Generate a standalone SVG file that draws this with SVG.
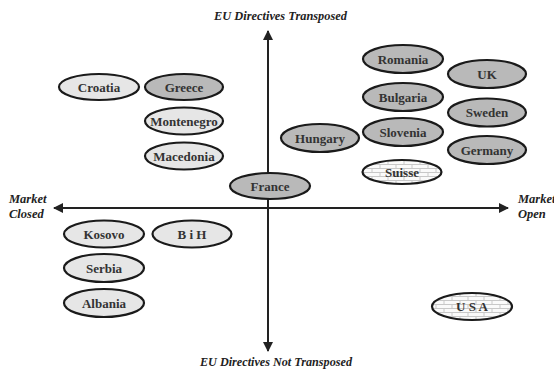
<svg xmlns="http://www.w3.org/2000/svg" width="554" height="371" viewBox="0 0 554 371">
<style>
.n ellipse{stroke:#1a1a1a;stroke-width:2.2}
.lt{fill:#e6e6e6}
.dk{fill:#b9b9b9}
.br{fill:url(#brick)}
.n text{font-family:"Liberation Serif","DejaVu Serif",serif;font-weight:bold;font-size:13px;fill:#333;text-anchor:middle}
.ax{font-family:"Liberation Serif","DejaVu Serif",serif;font-weight:bold;font-style:italic;font-size:12.5px;fill:#222}
.axis{stroke:#222;stroke-width:2;fill:none}
</style>
<defs>
<pattern id="brick" width="16" height="8" patternUnits="userSpaceOnUse">
<rect width="16" height="8" fill="#fafafa"/>
<path d="M0 0.5H16M0 4.5H16M4 0.5V4.5M12 4.5V8" stroke="#c8c8c8" stroke-width="1" fill="none"/>
</pattern>
<marker id="ah" viewBox="0 0 10 10" refX="9" refY="5" markerWidth="5" markerHeight="5" orient="auto" markerUnits="strokeWidth">
<path d="M0 0L10 5L0 10Z" fill="#222"/>
</marker>
</defs>
<rect width="554" height="371" fill="#ffffff"/>
<g id="connectors">
<line class="axis" x1="268" y1="208" x2="268" y2="31" marker-end="url(#ah)"/>
<line class="axis" x1="268" y1="208" x2="268" y2="351" marker-end="url(#ah)"/>
<line class="axis" x1="268" y1="208" x2="54" y2="208" marker-end="url(#ah)"/>
<line class="axis" x1="268" y1="208" x2="508" y2="208" marker-end="url(#ah)"/>
</g>
<g id="labels">
<text class="ax" x="214" y="20" textLength="133" lengthAdjust="spacingAndGlyphs">EU Directives Transposed</text>
<text class="ax" x="200" y="366" textLength="152" lengthAdjust="spacingAndGlyphs">EU Directives Not Transposed</text>
<text class="ax" x="9" y="203">Market</text>
<text class="ax" x="9" y="218">Closed</text>
<text class="ax" x="518" y="203">Market</text>
<text class="ax" x="518" y="218">Open</text>
</g>
<g id="croatia" class="n"><ellipse class="lt" cx="99" cy="87" rx="40" ry="13"/><text x="99" y="91.5">Croatia</text></g>
<g id="greece" class="n"><ellipse class="dk" cx="184" cy="87" rx="39" ry="13"/><text x="184" y="91.5">Greece</text></g>
<g id="montenegro" class="n"><ellipse class="lt" cx="184" cy="121" rx="39" ry="13.5"/><text x="184" y="125.5">Montenegro</text></g>
<g id="macedonia" class="n"><ellipse class="lt" cx="184" cy="156" rx="39" ry="13.5"/><text x="184" y="160.5">Macedonia</text></g>
<g id="france" class="n"><ellipse class="dk" cx="270" cy="186" rx="40" ry="13"/><text x="270" y="190.5">France</text></g>
<g id="romania" class="n"><ellipse class="dk" cx="403" cy="59" rx="40" ry="14"/><text x="403" y="63.5">Romania</text></g>
<g id="uk" class="n"><ellipse class="dk" cx="487" cy="74" rx="39" ry="14"/><text x="487" y="78.5">UK</text></g>
<g id="bulgaria" class="n"><ellipse class="dk" cx="403" cy="97" rx="40" ry="14"/><text x="403" y="101.5">Bulgaria</text></g>
<g id="sweden" class="n"><ellipse class="dk" cx="487" cy="112.5" rx="39" ry="14"/><text x="487" y="117">Sweden</text></g>
<g id="hungary" class="n"><ellipse class="dk" cx="320" cy="138" rx="39" ry="14"/><text x="320" y="142.5">Hungary</text></g>
<g id="slovenia" class="n"><ellipse class="dk" cx="403" cy="132" rx="40" ry="14"/><text x="403" y="136.5">Slovenia</text></g>
<g id="germany" class="n"><ellipse class="dk" cx="487" cy="150" rx="39" ry="14"/><text x="487" y="154.5">Germany</text></g>
<g id="suisse" class="n"><ellipse class="br" cx="402" cy="172" rx="39.5" ry="12"/><text x="402" y="176.5">Suisse</text></g>
<g id="kosovo" class="n"><ellipse class="lt" cx="104" cy="234" rx="40" ry="13.5"/><text x="104" y="238.5">Kosovo</text></g>
<g id="bih" class="n"><ellipse class="lt" cx="192" cy="234" rx="39.5" ry="13.5"/><text x="192" y="238.5">B i H</text></g>
<g id="serbia" class="n"><ellipse class="lt" cx="104" cy="268" rx="40" ry="14"/><text x="104" y="272.5">Serbia</text></g>
<g id="albania" class="n"><ellipse class="lt" cx="104" cy="303" rx="40" ry="14"/><text x="104" y="307.5">Albania</text></g>
<g id="usa" class="n"><ellipse class="br" cx="472" cy="306.5" rx="40" ry="13.5"/><text x="472" y="311">U S A</text></g>
</svg>
